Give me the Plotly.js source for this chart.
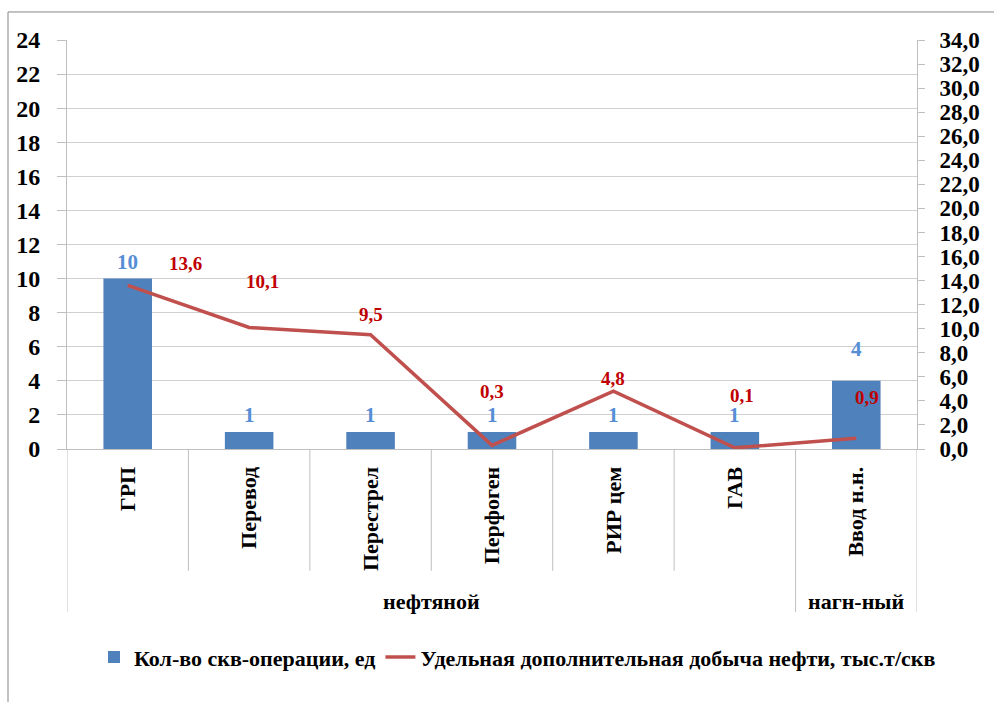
<!DOCTYPE html>
<html>
<head>
<meta charset="utf-8">
<script src="https://cdn.plot.ly/plotly-3.0.1.min.js"></script>
</head>
<body style="margin:0">
<div id="chart"></div>
<script>
// categories and groups
const categories = ['ГРП', 'Перевод', 'Перестрел', 'Перфоген', 'РИР цем', 'ГАВ', 'Ввод н.н.'];
const groupNames = ['нефтяной', 'нагн-ный'];
const groupSizes = [6, 1];

// series
const wellOps = [10, 1, 1, 1, 1, 1, 4];
const extraOil = [13.6, 10.1, 9.5, 0.3, 4.8, 0.1, 0.9];

const barName = 'Кол-во скв-операции, ед';
const lineName = 'Удельная дополнительная добыча нефти, тыс.т/скв';

// label offsets, px (the labels in the original were moved by hand)
const barLabelShift = [17, 17, 17, 17, 17, 17, 32];
const lineLabelShift = [[58, 22], [13, 46], [0, 20], [0, 54], [0, 13], [7, 52], [11, 41]];

const serif = 'Liberation Serif';
const gridColor = '#D0D0D0';

function boldFont(size, color) {
    return {family: serif, size: size, color: color, weight: 'bold'};
}

let traces = [
    {
        type: 'bar',
        name: barName,
        x: categories,
        y: wellOps,
        marker: {color: '#4F81BD'},
        width: 0.4,
        yaxis: 'y',
        hoverinfo: 'x+y'
    },
    {
        type: 'scatter',
        mode: 'lines',
        name: lineName,
        x: categories,
        y: extraOil,
        line: {color: '#C0504D', width: 3.5},
        yaxis: 'y2',
        hoverinfo: 'x+y'
    }
];

let annotations = [];

// value labels on bars
wellOps.forEach((v, i) => {
    annotations.push({
        x: categories[i], y: v, xref: 'x', yref: 'y',
        text: String(v), showarrow: false,
        yshift: barLabelShift[i],
        font: boldFont(21, '#558ED5')
    });
});

// value labels on line
extraOil.forEach((v, i) => {
    annotations.push({
        x: categories[i], y: v, xref: 'x', yref: 'y2',
        text: v.toFixed(1).replace('.', ','), showarrow: false,
        xshift: lineLabelShift[i][0],
        yshift: lineLabelShift[i][1],
        font: boldFont(19, '#C00000')
    });
});

// group labels and divider lines of the two-level category axis
let shapes = [];
let start = 0;
groupNames.forEach((g, gi) => {
    let end = start + groupSizes[gi];
    annotations.push({
        x: (start + end - 1) / 2, y: -0.372, xref: 'x', yref: 'paper',
        text: g, showarrow: false, yanchor: 'middle',
        font: boldFont(22, '#000')
    });
    shapes.push({
        type: 'line', xref: 'x', yref: 'paper',
        x0: start - 0.5, x1: start - 0.5, y0: 0, y1: -0.3985,
        line: {color: '#BFBFBF', width: 1}
    });
    for (let k = start + 1; k < end; k++) {
        shapes.push({
            type: 'line', xref: 'x', yref: 'paper',
            x0: k - 0.5, x1: k - 0.5, y0: 0, y1: -0.298,
            line: {color: '#BFBFBF', width: 1}
        });
    }
    start = end;
});
shapes.push({
    type: 'line', xref: 'x', yref: 'paper',
    x0: start - 0.5, x1: start - 0.5, y0: 0, y1: -0.3985,
    line: {color: '#BFBFBF', width: 1}
});

// outer chart border
shapes.push({
    type: 'rect', xref: 'paper', yref: 'paper',
    x0: -0.0694, x1: 1.2, y0: -0.7, y1: 1.0685,
    line: {color: '#868686', width: 1}
});

let layout = {
    width: 994,
    height: 702,
    margin: {l: 67, r: 77, t: 40, b: 253},
    font: {family: serif},
    paper_bgcolor: '#fff',
    plot_bgcolor: '#fff',
    separators: ', ',
    showlegend: true,
    legend: {
        orientation: 'h',
        x: 0.53, xanchor: 'center',
        y: -0.509, yanchor: 'middle',
        traceorder: 'normal',
        font: boldFont(22, '#000'),
        itemwidth: 30
    },
    xaxis: {
        type: 'category',
        range: [-0.5, categories.length - 0.5],
        tickangle: -90,
        tickfont: boldFont(22, '#000'),
        showline: true,
        linecolor: '#BFBFBF',
        showgrid: false,
        ticks: '',
        ticklabelstandoff: 8,
        automargin: false
    },
    yaxis: {
        range: [0, 24],
        dtick: 2,
        tickfont: boldFont(24, '#000'),
        showgrid: true,
        gridcolor: gridColor,
        showline: true,
        linecolor: '#BFBFBF',
        ticks: 'outside',
        ticklen: 9,
        tickcolor: '#BFBFBF',
        ticklabelstandoff: 12,
        zeroline: false,
        automargin: false
    },
    yaxis2: {
        overlaying: 'y',
        side: 'right',
        range: [0, 34],
        dtick: 2,
        tickformat: '.1f',
        tickfont: boldFont(23, '#000'),
        showgrid: false,
        showline: true,
        linecolor: '#BFBFBF',
        ticks: 'outside',
        ticklen: 7,
        tickcolor: '#BFBFBF',
        ticklabelstandoff: 10,
        zeroline: false,
        automargin: false
    },
    annotations: annotations,
    shapes: shapes
};

Plotly.newPlot('chart', traces, layout, {displayModeBar: false});
</script>
</body>
</html>
